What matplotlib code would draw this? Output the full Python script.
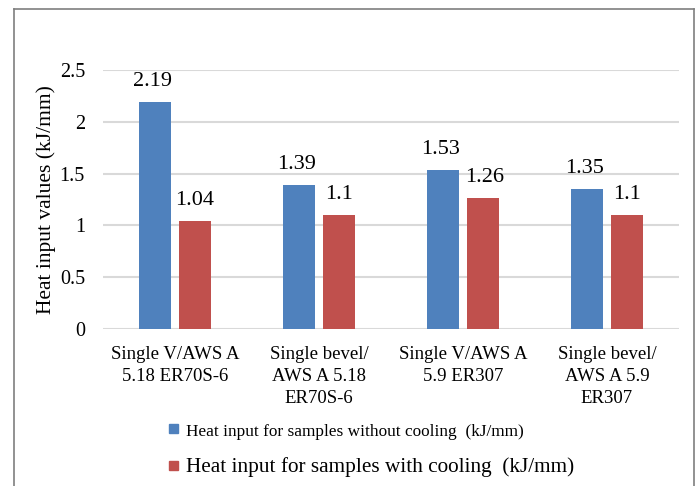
import matplotlib
matplotlib.use("Agg")
import matplotlib.pyplot as plt
import numpy as np
from matplotlib.patches import Rectangle
from matplotlib.lines import Line2D

categories = ["Single V/AWS A\n5.18 ER70S-6", "Single bevel/\nAWS A 5.18\nER70S-6",
              "Single V/AWS A\n5.9 ER307", "Single bevel/\nAWS A 5.9\nER307"]
without_cooling = [2.19, 1.39, 1.53, 1.35]
with_cooling = [1.04, 1.1, 1.26, 1.1]
label_without = ["2.19", "1.39", "1.53", "1.35"]
label_with = ["1.04", "1.1", "1.26", "1.1"]
yticks = [0, 0.5, 1, 1.5, 2, 2.5]
ytick_labels = ["0", "0.5", "1", "1.5", "2", "2.5"]

plt.rcParams['font.family'] = ['Liberation Serif', 'DejaVu Serif']

W, H = 699, 486
fig = plt.figure(figsize=(W/100, H/100), dpi=100)
ax = fig.add_axes([103/W, 1-329/H, (679-103)/W, (329-70)/H])

x = np.arange(len(categories))
bw = 0.222
off = 0.139
blue = '#4F81BD'
red = '#C0504D'
b1 = ax.bar(x - off, without_cooling, bw, color=blue, zorder=3)
b2 = ax.bar(x + off, with_cooling, bw, color=red, zorder=3)

for rect, lab in zip(b1, label_without):
    ax.annotate(lab, (rect.get_x() + rect.get_width()/2, rect.get_height()),
                xytext=(-2, 8), textcoords='offset points', ha='center', va='bottom', fontsize=16)
for i, (rect, lab) in enumerate(zip(b2, label_with)):
    dx = 0 if i != 2 else 1.5
    ax.annotate(lab, (rect.get_x() + rect.get_width()/2, rect.get_height()),
                xytext=(dx, 8), textcoords='offset points', ha='center', va='bottom', fontsize=16)

ax.set_xlim(-0.5, 3.5)
ax.set_ylim(0, 2.5)
ax.set_yticks(yticks)
ax.set_yticklabels(ytick_labels, fontsize=14.5)
ax.set_xticks(x)
ax.set_xticklabels(categories, fontsize=13.5, linespacing=1.38)
ax.tick_params(axis='both', length=0)
ax.tick_params(axis='y', pad=13)
ax.tick_params(axis='x', pad=12)
ax.yaxis.grid(True, color='#d9d9d9', linewidth=1.5, zorder=0)
ax.set_axisbelow(True)
for s in ax.spines.values():
    s.set_visible(False)
ax.set_ylabel("Heat input values (kJ/mm)", fontsize=15.5, labelpad=3)

# Legend (manual)
fig.patches.append(Rectangle((169/W, 1-433/H), 9/W, 9/H, transform=fig.transFigure,
                             color=blue, figure=fig))
fig.text(186/W, 1-432/H, "Heat input for samples without cooling  (kJ/mm)", fontsize=12.4,
         va='center', ha='left')
fig.patches.append(Rectangle((169/W, 1-470/H), 9/W, 9/H, transform=fig.transFigure,
                             color=red, figure=fig))
fig.text(186/W, 1-467/H, "Heat input for samples with cooling  (kJ/mm)", fontsize=15.3,
         va='center', ha='left')

# Frame
fc = '#7f7f7f'
fig.add_artist(Line2D([14/W, 14/W], [0, 1-9/H], transform=fig.transFigure, color=fc, lw=1.2))
fig.add_artist(Line2D([14/W, 694/W], [1-9/H, 1-9/H], transform=fig.transFigure, color=fc, lw=1.2))
fig.add_artist(Line2D([694/W, 694/W], [0, 1-9/H], transform=fig.transFigure, color=fc, lw=1.2))

fig.savefig("out.png", dpi=100)
